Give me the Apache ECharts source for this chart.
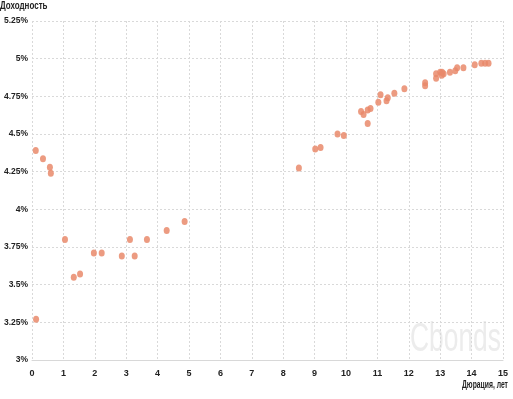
<!DOCTYPE html>
<html>
<head>
<meta charset="utf-8">
<script src="https://cdn.jsdelivr.net/npm/echarts@6/dist/echarts.min.js"></script>
<style>html,body{margin:0;padding:0;background:#fff}#c{width:513px;height:399px}</style>
</head>
<body>
<div id="c"></div>
<script>
const durations = [0.12, 0.35, 0.57, 0.6, 0.13, 1.05, 1.33, 1.53, 1.97, 2.22, 2.86, 3.12, 3.27, 3.66, 4.29, 4.86,
  8.5, 9.02, 9.19, 9.73, 9.93,
  10.48, 10.56, 10.69, 10.78, 10.69, 11.03, 11.1, 11.29, 11.33, 11.54, 11.86,
  12.52, 12.52, 12.87, 12.87, 13.0, 13.06, 13.05, 13.11, 13.31, 13.48, 13.54, 13.74, 14.1, 14.31, 14.43, 14.54];
const yields = [4.39, 4.335, 4.28, 4.24, 3.27, 3.80, 3.55, 3.57, 3.71, 3.71, 3.69, 3.80, 3.69, 3.80, 3.86, 3.92,
  4.275, 4.40, 4.41, 4.50, 4.49,
  4.65, 4.63, 4.66, 4.67, 4.57, 4.71, 4.76, 4.72, 4.74, 4.77, 4.80,
  4.84, 4.82, 4.90, 4.87, 4.91, 4.91, 4.89, 4.90, 4.91, 4.92, 4.94, 4.94, 4.96, 4.97, 4.97, 4.97];
const yTitle = 'Доходность';
const xTitle = 'Дюрация, лет';
const watermark = 'Cbonds';

const font = '"Liberation Sans", Arial, sans-serif';
const chart = echarts.init(document.getElementById('c'));
chart.setOption({
  animation: false,
  grid: {left: 32, right: 10, top: 21, bottom: 39, containLabel: false, outerBoundsMode: 'none'},
  graphic: [
    {type: 'text', x: 0, y: 1, scaleX: 0.8, style: {text: yTitle, font: 'bold 10px ' + font, fill: '#222'}},
    {type: 'text', x: 462, y: 380, scaleX: 0.68, style: {text: xTitle, font: 'bold 10px ' + font, fill: '#222'}},
    {type: 'text', x: 410, y: 320, scaleX: 0.66, z: -1, style: {text: watermark, font: '40px ' + font, fill: '#ececec'}}
  ],
  xAxis: {
    type: 'value', min: 0, max: 15, interval: 1,
    axisLine: {show: true, lineStyle: {color: '#d8d8d8'}},
    axisTick: {show: false},
    axisLabel: {color: '#222', fontFamily: font, fontWeight: 'bold', fontSize: 9, margin: 9},
    splitLine: {show: true, lineStyle: {color: '#d9d9d9', type: [2, 2]}}
  },
  yAxis: {
    type: 'value', min: 3, max: 5.25, interval: 0.25,
    axisLine: {show: false},
    axisTick: {show: false},
    axisLabel: {color: '#222', fontFamily: font, fontWeight: 'bold', fontSize: 8.5, margin: 4,
      formatter: v => parseFloat(v.toFixed(2)) + '%'},
    splitLine: {show: true, lineStyle: {color: '#d9d9d9', type: [2, 2]}}
  },
  series: [{
    type: 'scatter',
    symbolSize: [6, 7],
    itemStyle: {color: '#e98a6b', opacity: 0.85},
    data: durations.map((d, i) => [d, yields[i]])
  }]
});
</script>
</body>
</html>
